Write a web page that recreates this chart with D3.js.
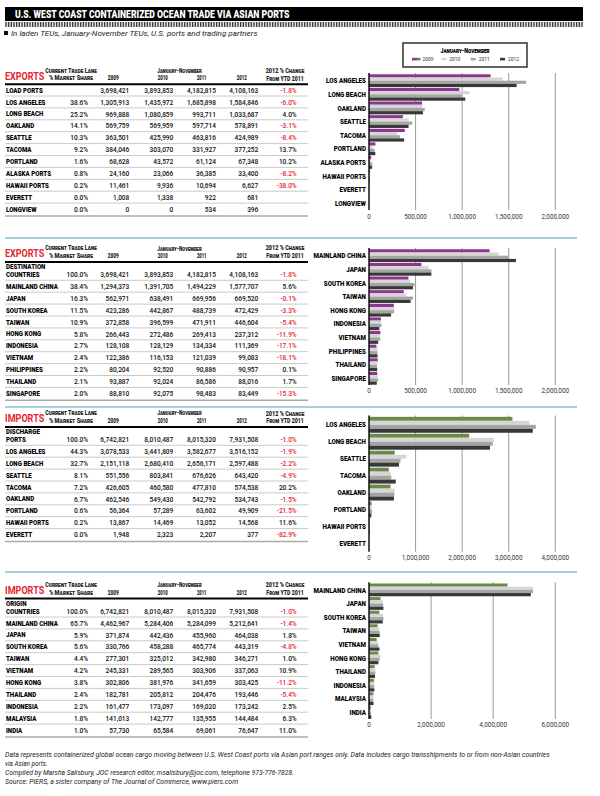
<!DOCTYPE html>
<html>
<head>
<meta charset="utf-8">
<script src="https://cdn.jsdelivr.net/npm/d3@7"></script>
<style>
body { margin: 0; background: #fff; }
text { font-family: Roboto, 'Liberation Sans', sans-serif; }
</style>
</head>
<body>
<svg id="chart" width="600" height="796"></svg>
<script>
// ---- data ----
var years = ["2009", "2010", "2011", "2012"];

// exports by U.S. load port
var loadPorts = ["LOAD PORTS", "LOS ANGELES", "LONG BEACH", "OAKLAND", "SEATTLE", "TACOMA", "PORTLAND", "ALASKA PORTS", "HAWAII PORTS", "EVERETT", "LONGVIEW"];
var loadShare = ["", "38.6%", "25.2%", "14.1%", "10.3%", "9.2%", "1.6%", "0.8%", "0.2%", "0.0%", "0.0%"];
var load2009 = [3698421, 1305913, 969888, 569759, 363501, 384046, 68628, 24160, 11461, 1008, 0];
var load2010 = [3893853, 1435972, 1080859, 569959, 425990, 303070, 43572, 23066, 9936, 1338, 0];
var load2011 = [4182815, 1685898, 993711, 597714, 463816, 331927, 61124, 36385, 10694, 922, 534];
var load2012 = [4108163, 1584846, 1033687, 578891, 424989, 377252, 67348, 33400, 6627, 681, 396];
var loadChange = ["-1.8%", "-6.0%", "4.0%", "-3.1%", "-8.4%", "13.7%", "10.2%", "-8.2%", "-38.0%", "", ""];

// exports by destination country
var destCountries = ["DESTINATION COUNTRIES", "MAINLAND CHINA", "JAPAN", "SOUTH KOREA", "TAIWAN", "HONG KONG", "INDONESIA", "VIETNAM", "PHILIPPINES", "THAILAND", "SINGAPORE"];
var destShare = ["100.0%", "38.4%", "16.3%", "11.5%", "10.9%", "5.8%", "2.7%", "2.4%", "2.2%", "2.1%", "2.0%"];
var dest2009 = [3698421, 1294373, 562971, 423286, 372858, 266443, 128108, 122386, 80204, 93887, 88810];
var dest2010 = [3893853, 1391705, 638491, 442867, 396599, 272486, 128129, 116153, 92520, 92024, 92075];
var dest2011 = [4182815, 1494229, 669956, 488739, 471911, 269413, 134334, 121039, 90886, 86586, 98483];
var dest2012 = [4108163, 1577707, 669520, 472429, 446604, 237312, 111369, 99083, 90957, 88016, 83449];
var destChange = ["-1.8%", "5.6%", "-0.1%", "-3.3%", "-5.4%", "-11.9%", "-17.1%", "-18.1%", "0.1%", "1.7%", "-15.3%"];

// imports by U.S. discharge port
var dischPorts = ["DISCHARGE PORTS", "LOS ANGELES", "LONG BEACH", "SEATTLE", "TACOMA", "OAKLAND", "PORTLAND", "HAWAII PORTS", "EVERETT"];
var dischShare = ["100.0%", "44.3%", "32.7%", "8.1%", "7.2%", "6.7%", "0.6%", "0.2%", "0.0%"];
var disch2009 = [6742821, 3078533, 2151118, 551556, 426605, 462546, 56364, 13867, 1948];
var disch2010 = [8010487, 3441809, 2680410, 803841, 460580, 549430, 57289, 14469, 2323];
var disch2011 = [8015320, 3582677, 2656171, 676626, 477810, 542792, 63602, 13052, 2207];
var disch2012 = [7931508, 3516152, 2597488, 643420, 574538, 534743, 49909, 14568, 377];
var dischChange = ["-1.0%", "-1.9%", "-2.2%", "-4.9%", "20.2%", "-1.5%", "-21.5%", "11.6%", "-82.9%"];

// imports by origin country
var origCountries = ["ORIGIN COUNTRIES", "MAINLAND CHINA", "JAPAN", "SOUTH KOREA", "TAIWAN", "VIETNAM", "HONG KONG", "THAILAND", "INDONESIA", "MALAYSIA", "INDIA"];
var origShare = ["100.0%", "65.7%", "5.9%", "5.6%", "4.4%", "4.2%", "3.8%", "2.4%", "2.2%", "1.8%", "1.0%"];
var orig2009 = [6742821, 4462967, 371874, 330766, 277301, 245331, 302806, 182781, 161477, 141013, 57730];
var orig2010 = [8010487, 5284406, 442436, 458288, 325012, 289565, 381976, 205812, 173097, 142777, 65584];
var orig2011 = [8015320, 5284099, 455960, 465774, 342980, 303906, 341659, 204476, 169020, 135955, 69061];
var orig2012 = [7931508, 5212641, 464038, 443319, 346271, 337063, 303425, 193446, 173242, 144484, 76647];
var origChange = ["-1.0%", "-1.4%", "1.8%", "-4.8%", "1.0%", "10.9%", "-11.2%", "-5.4%", "2.5%", "6.3%", "11.0%"];

var xTicksExp = [0, 500000, 1000000, 1500000, 2000000];
var xTicksImpPorts = [0, 1000000, 2000000, 3000000, 4000000];
var xTicksImpCountries = [0, 2000000, 4000000, 6000000];

// ---- drawing ----
var svg = d3.select("#chart");
var fmt = d3.format(",");
var RED = "#e3262f", TEAL = "#4ba3b7";
var PURPLE = "#8e3590", GREEN = "#6a8a48";
var greys = ["#d6d6d6", "#a5a5a5", "#383838"];
var K = 0.82; // horizontal squeeze, the original uses a condensed face

// text squeezed by K
function T(g, x, y, s, size, weight) {
    return g.append("text").attr("transform", "scale(" + K + ",1)").attr("x", x / K)
        .attr("y", y).attr("dy", "0.35em").attr("font-size", size)
        .attr("font-weight", weight || 400).text(s);
}

// text squeezed to a given width
function fit(sel, x, target) {
    var w = sel.node().getComputedTextLength();
    var k = target / w;
    sel.attr("transform", "scale(" + k + ",1)").attr("x", x / k);
    return sel;
}

function F(g, x, y, s, size, weight, target) {
    var t = g.append("text").attr("x", x).attr("y", y).attr("dy", "0.35em")
        .attr("font-size", size).attr("font-weight", weight || 400).text(s);
    return fit(t, x, target);
}

// title band
svg.append("rect").attr("x", 5).attr("y", 7).attr("width", 578).attr("height", 14).attr("fill", "#000");
F(svg, 15, 14, "U.S. WEST COAST CONTAINERIZED OCEAN TRADE VIA ASIAN PORTS", 10.5, 900, 275).attr("fill", "#fff");

var pat = svg.append("defs").append("pattern").attr("id", "hatch")
    .attr("patternUnits", "userSpaceOnUse").attr("width", 1.6).attr("height", 6);
pat.append("rect").attr("width", 0.8).attr("height", 6).attr("fill", "#222");
svg.append("rect").attr("x", 5).attr("y", 22).attr("width", 578).attr("height", 5).attr("fill", "url(#hatch)");

svg.append("rect").attr("x", 4).attr("y", 31).attr("width", 4).attr("height", 4).attr("fill", "#111");
F(svg, 11, 33, "In laden TEUs, January-November  TEUs, U.S. ports and trading partners", 8, 400, 254)
    .attr("font-style", "italic").attr("fill", "#222");

// legend
var lg = svg.append("g");
lg.append("rect").attr("x", 403).attr("y", 43).attr("width", 124).attr("height", 24)
    .attr("fill", "#fff").attr("stroke", "#333").attr("stroke-width", 1.5);
F(lg, 465, 50.5, "January-November", 7, 900, 47).attr("text-anchor", "middle").style("font-variant", "small-caps");
var legX = d3.scalePoint().domain(years).range([412, 500]);
years.forEach(function (yr, i) {
    var x = legX(yr);
    if (i === 0) {
        lg.append("rect").attr("x", x).attr("y", 57.8).attr("width", 5).attr("height", 2.6).attr("fill", PURPLE);
        lg.append("rect").attr("x", x + 5).attr("y", 57.8).attr("width", 3.5).attr("height", 2.6).attr("fill", GREEN);
    } else {
        lg.append("rect").attr("x", x).attr("y", 57.8).attr("width", 5).attr("height", 2.6).attr("fill", greys[i - 1]);
    }
    T(lg, x + (i === 0 ? 10.5 : 8), 59, yr, 6).attr("fill", "#333");
});

var colRight = { share: 88, y2009: 129.3, y2010: 173.3, y2011: 216, y2012: 258.3, change: 296.7 };

function drawTable(top, title, labels, share, v09, v10, v11, v12, change) {
    var g = svg.append("g");
    F(g, 5, top, title, 11, 700, 39.3).attr("fill", RED);
    var hs = [
        ["Current Trade Lane", 71, -5, 47], ["% Market Share", 71, 2.6, 40.5], ["2009", 113.3, 2.6, 11],
        ["January-November", 179.5, -5, 42.4], ["2010", 162.7, 2.6, 10], ["2011", 201.7, 2.6, 9.5],
        ["2012", 241.7, 2.6, 10], ["2012 % Change", 285, -5, 38.3], ["From YTD 2011", 285, 2.6, 36.7]
    ];
    hs.forEach(function (h) {
        F(g, h[1], top + h[2], h[0], 6.3, 900, h[3]).attr("text-anchor", "middle")
            .style("font-variant", "small-caps").attr("fill", "#222");
    });
    g.append("line").attr("x1", 5).attr("x2", 308).attr("y1", top + 8.6).attr("y2", top + 8.6)
        .attr("stroke", "#000").attr("stroke-width", 2);

    var y = top + 14.3;
    labels.forEach(function (lab, i) {
        var parts = (i === 0 && lab !== "LOAD PORTS") ? lab.split(" ") : [lab];
        if (parts.length === 2) {
            T(g, 6, top + 13.5, parts[0], 7.5, 900);
            y = top + 21;
        }
        T(g, 6, y, parts[parts.length - 1], 7.5, 900);
        var cells = [
            [share[i], colRight.share], [fmt(v09[i]), colRight.y2009], [fmt(v10[i]), colRight.y2010],
            [fmt(v11[i]), colRight.y2011], [fmt(v12[i]), colRight.y2012]
        ];
        cells.forEach(function (c) {
            T(g, c[1], y, c[0], 8, 500).attr("text-anchor", "end").attr("fill", "#111");
        });
        T(g, colRight.change, y, change[i], 8, 500).attr("text-anchor", "end")
            .attr("fill", change[i].charAt(0) === "-" ? RED : "#111");
        var last = i === labels.length - 1;
        g.append("line").attr("x1", 5).attr("x2", 308)
            .attr("y1", y + (last ? 7 : 6)).attr("y2", y + (last ? 7 : 6))
            .attr("stroke", last ? "#aaa" : "#bdbdbd").attr("stroke-width", last ? 1.5 : 0.8);
        y += 11.9;
    });
}

function drawBars(y0, y1, cats, series, max, ticks, tickY, firstColor) {
    var g = svg.append("g");
    var x = d3.scaleLinear().domain([0, max]).range([369, 555.3]);
    var yb = d3.scaleBand().domain(cats).range([y0, y1]).paddingInner(0.06).paddingOuter(0.02);
    var yi = d3.scaleBand().domain(years).range([0, yb.bandwidth()]);
    var colors = [firstColor].concat(greys);

    g.selectAll(".grid").data(ticks.slice(1)).enter().append("line")
        .attr("x1", function (d) { return x(d); }).attr("x2", function (d) { return x(d); })
        .attr("y1", y0 - 1).attr("y2", y1).attr("stroke", "#9a9a9a").attr("stroke-width", 1);

    var grp = g.selectAll(".cat").data(cats).enter().append("g")
        .attr("transform", function (d) { return "translate(0," + yb(d) + ")"; });
    grp.selectAll("rect").data(function (d, ci) {
        return years.map(function (yr, k) { return { yr: yr, v: series[k][ci + 1], k: k }; });
    }).enter().append("rect")
        .attr("x", x(0)).attr("y", function (d) { return yi(d.yr); })
        .attr("width", function (d) { return x(d.v) - x(0); })
        .attr("height", yi.bandwidth())
        .attr("fill", function (d) { return colors[d.k]; });

    g.selectAll(".lab").data(cats).enter().append("text")
        .attr("transform", "scale(" + K + ",1)")
        .attr("x", 366 / K).attr("y", function (d) { return yb(d) + yb.bandwidth() / 2; }).attr("dy", "0.35em")
        .attr("text-anchor", "end").attr("font-size", 7.6).attr("font-weight", 900).text(function (d) { return d; });

    g.append("line").attr("x1", x(0)).attr("x2", x(0)).attr("y1", y0 - 1).attr("y2", y1)
        .attr("stroke", "#111").attr("stroke-width", 1.5);

    g.selectAll(".tick").data(ticks).enter().append("text")
        .attr("x", function (d) { return x(d); }).attr("y", tickY).attr("dy", "0.35em")
        .attr("text-anchor", "middle").attr("font-size", 6.4).attr("fill", "#333")
        .text(function (d) { return fmt(d); });
}

function divider(y) {
    svg.append("line").attr("x1", 5).attr("x2", 577).attr("y1", y).attr("y2", y)
        .attr("stroke", TEAL).attr("stroke-width", 1.2);
}

// section 1
drawTable(75.7, "EXPORTS", loadPorts, loadShare, load2009, load2010, load2011, load2012, loadChange);
drawBars(74, 210, loadPorts.slice(1), [load2009, load2010, load2011, load2012], 2000000, xTicksExp, 216.7, PURPLE);
divider(238);

// section 2
drawTable(253.3, "EXPORTS", destCountries, destShare, dest2009, dest2010, dest2011, dest2012, destChange);
drawBars(249, 385, destCountries.slice(1), [dest2009, dest2010, dest2011, dest2012], 2000000, xTicksExp, 390.7, PURPLE);
divider(407);

// section 3
drawTable(418.3, "IMPORTS", dischPorts, dischShare, disch2009, disch2010, disch2011, disch2012, dischChange);
drawBars(416.5, 551.7, dischPorts.slice(1), [disch2009, disch2010, disch2011, disch2012], 4000000, xTicksImpPorts, 557.7, GREEN);
divider(572);

// section 4
drawTable(590, "IMPORTS", origCountries, origShare, orig2009, orig2010, orig2011, orig2012, origChange);
drawBars(583.2, 719, origCountries.slice(1), [orig2009, orig2010, orig2011, orig2012], 6000000, xTicksImpCountries, 725, GREEN);

// notes
var notes = [
    ["Data represents containerized global ocean cargo moving between U.S. West Coast ports via Asian port ranges only. Data includes cargo transshipments to or from non-Asian countries", 562],
    ["via Asian ports.", 44],
    ["Compiled by Marsha Salisbury, JOC research editor, msalisbury@joc.com, telephone 973-776-7828.", 298],
    ["Source: PIERS, a sister company of The Journal of Commerce, www.piers.com", 240]
];
notes.forEach(function (n, i) {
    F(svg, 5, 754 + i * 9, n[0], 7.5, 400, n[1]).attr("font-style", "italic").attr("fill", "#222");
});
</script>
</body>
</html>
